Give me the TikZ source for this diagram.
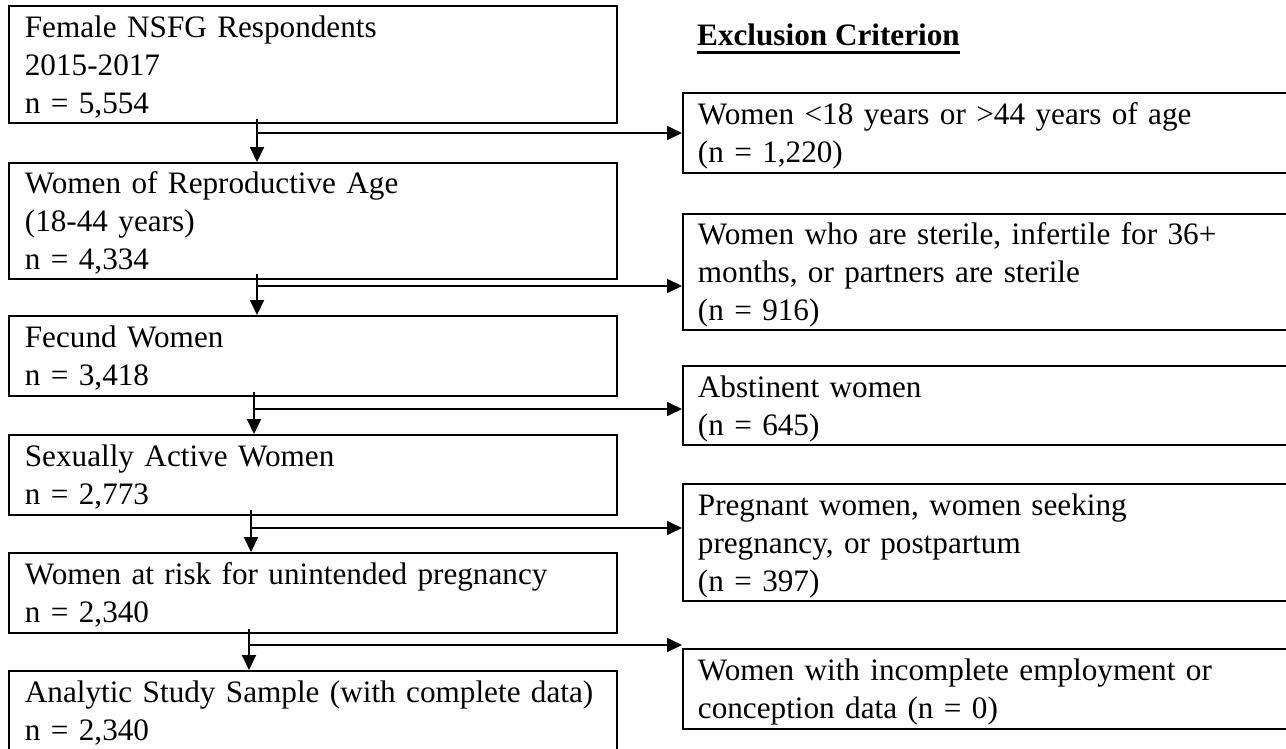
\documentclass[tikz,border=0pt]{standalone}
\usepackage{fontspec}
\setmainfont{Liberation Serif}
\usetikzlibrary{arrows.meta}
\newcommand\tstrut{\rule[-8pt]{0pt}{38pt}}
\tikzset{
  every node/.style={font=\fontsize{31.2}{38}\selectfont},
  lbox/.style={draw, line width=1.8pt, anchor=north west, inner xsep=16pt, inner ysep=0pt,
    align=left, text width=576pt, minimum width=608pt},
  rbox/.style={draw, line width=1.8pt, anchor=north west, inner xsep=15pt, inner ysep=0pt,
    align=left, text width=700pt, minimum width=730pt},
  vline/.style={line width=2pt, -{Triangle[length=15pt,width=14pt]}},
  hline/.style={line width=1.6pt, -{Triangle[length=15pt,width=14pt]}},
}
\begin{document}
\begin{tikzpicture}[x=1pt,y=-1pt]
\clip (0,0) rectangle (1286,748);
\fill[white] (0,0) rectangle (1286,748);
% left column
\node[lbox, minimum height=117pt] (b1) at (8,5) {\tstrut Female NSFG Respondents\\2015-2017\\n = 5,554\tstrut};
\node[lbox, minimum height=116pt] (b2) at (8,162) {\tstrut Women of Reproductive Age\\(18-44 years)\\n = 4,334\tstrut};
\node[lbox, minimum height=80pt] (b3) at (8,315) {\tstrut Fecund Women\\n = 3,418\tstrut};
\node[lbox, minimum height=80pt] (b4) at (8,434) {\tstrut Sexually Active Women\\n = 2,773\tstrut};
\node[lbox, minimum height=80pt] (b5) at (8,552) {\tstrut Women at risk for unintended pregnancy\\n = 2,340\tstrut};
\node[lbox, minimum height=80pt] (b6) at (8,670) {\tstrut Analytic Study Sample (with complete data)\\n = 2,340\tstrut};
% header
\node[anchor=base west, inner sep=0pt, font=\fontsize{31.2}{38}\selectfont\bfseries] (hdr) at (697,45) {Exclusion Criterion};
\draw[line width=3pt] ([yshift=-7pt]hdr.base west) -- ([yshift=-7pt]hdr.base east);
% right column
\node[rbox, minimum height=80pt] (r1) at (682,92) {\tstrut Women <18 years or >44 years of age\\(n = 1,220)\tstrut};
\node[rbox, minimum height=116pt] (r2) at (682,213) {\tstrut Women who are sterile, infertile for 36+\\months, or partners are sterile\\(n = 916)\tstrut};
\node[rbox, minimum height=79pt] (r3) at (682,365) {\tstrut Abstinent women\\(n = 645)\tstrut};
\node[rbox, minimum height=117pt] (r4) at (682,483) {\tstrut Pregnant women, women seeking\\pregnancy, or postpartum\\(n = 397)\tstrut};
\node[rbox, minimum height=80pt] (r5) at (682,648) {\tstrut Women with incomplete employment or\\conception data (n = 0)\tstrut};
% connectors
\coordinate (s1) at (257,119); \coordinate (h1) at (257,133);
\coordinate (s2) at (257,274); \coordinate (h2) at (257,286);
\coordinate (s3) at (254,392); \coordinate (h3) at (254,409);
\coordinate (s4) at (251,510); \coordinate (h4) at (251,528);
\coordinate (s5) at (249,629); \coordinate (h5) at (249,645);
\draw[vline] (s1) -- (s1 |- b2.north);
\draw[hline] (h1) -- (h1 -| r1.west);
\draw[vline] (s2) -- (s2 |- b3.north);
\draw[hline] (h2) -- (h2 -| r2.west);
\draw[vline] (s3) -- (s3 |- b4.north);
\draw[hline] (h3) -- (h3 -| r3.west);
\draw[vline] (s4) -- (s4 |- b5.north);
\draw[hline] (h4) -- (h4 -| r4.west);
\draw[vline] (s5) -- (s5 |- b6.north);
\draw[hline] (h5) -- (h5 -| r5.west);
\end{tikzpicture}
\end{document}
